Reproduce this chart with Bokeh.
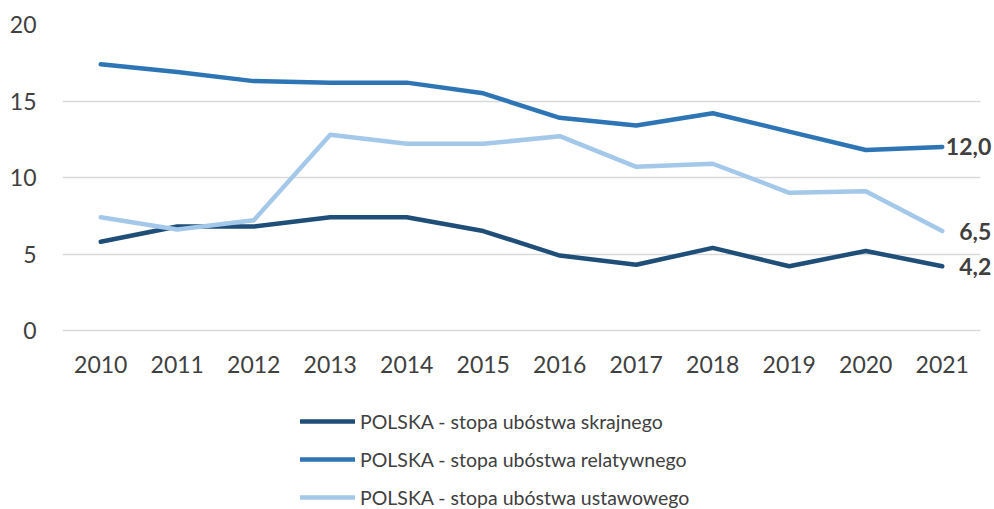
from bokeh.plotting import figure
from bokeh.models import Range1d, ColumnDataSource, LabelSet, FixedTicker, Legend, LegendItem
from bokeh.core.properties import value
from bokeh.embed import file_html
from bokeh.resources import INLINE

years = [2010, 2011, 2012, 2013, 2014, 2015, 2016, 2017, 2018, 2019, 2020, 2021]
skrajnego = [5.8, 6.8, 6.8, 7.4, 7.4, 6.5, 4.9, 4.3, 5.4, 4.2, 5.2, 4.2]
relatywnego = [17.4, 16.9, 16.3, 16.2, 16.2, 15.5, 13.9, 13.4, 14.2, 13.0, 11.8, 12.0]
ustawowego = [7.4, 6.6, 7.2, 12.8, 12.2, 12.2, 12.7, 10.7, 10.9, 9.0, 9.1, 6.5]
series_names = [
    "POLSKA - stopa ubóstwa skrajnego",
    "POLSKA - stopa ubóstwa relatywnego",
    "POLSKA - stopa ubóstwa ustawowego",
]
y_ticks = [0, 5, 10, 15, 20]

colors = ["#1F4E79", "#2E75B6", "#A3C8EA"]
FONT = "Lato"
TXT = "#404040"

W, H, TOP, LEFT = 994, 509, 24, 62
zero_px = 306          # y=0 sits this far below the frame top
cat_px = 76.5          # width of one year slot
y_max = 20
y_min = -y_max * (H - TOP - zero_px) / zero_px
x_start = years[0] - 0.5
x_end = x_start + (W - LEFT) / cat_px

p = figure(
    width=W, height=H,
    x_range=Range1d(x_start, x_end),
    y_range=Range1d(y_min, y_max),
    output_backend="svg", toolbar_location=None,
    min_border_left=LEFT, min_border_right=0, min_border_top=TOP, min_border_bottom=0,
)
p.outline_line_color = None
p.background_fill_color = "white"
p.border_fill_color = "white"

p.xgrid.grid_line_color = None
p.ygrid.grid_line_color = "#D9D9D9"
p.ygrid.grid_line_width = 1.5
p.ygrid.cross_bounds = (years[0] - 0.5, years[-1] + 0.5)

p.yaxis.ticker = FixedTicker(ticks=y_ticks)
p.xaxis.ticker = FixedTicker(ticks=years)
for ax in (p.xaxis[0], p.yaxis[0]):
    ax.axis_line_color = None
    ax.major_tick_line_color = None
    ax.minor_tick_line_color = None
    ax.major_tick_in = 0
    ax.major_tick_out = 0
    ax.major_label_text_font = FONT
    ax.major_label_text_font_size = "23px"
    ax.major_label_text_color = TXT
p.yaxis.major_label_standoff = 26
p.xaxis.major_label_standoff = 25
p.xaxis.fixed_location = 0

all_series = [skrajnego, relatywnego, ustawowego]
items = []
for vals, name, c in zip(all_series, series_names, colors):
    src = ColumnDataSource(dict(x=years, y=vals))
    r = p.line("x", "y", source=src, line_color=c, line_width=4.5,
               line_join="round", line_cap="round")
    items.append(LegendItem(label=name, renderers=[r]))

last = ColumnDataSource(dict(
    x=[years[-1]] * 3,
    y=[s[-1] for s in all_series],
    t=[f"{s[-1]:.1f}".replace(".", ",") for s in all_series],
))
p.add_layout(LabelSet(x="x", y="y", text="t", source=last,
                      x_offset=49, y_offset=0,
                      text_align="right", text_baseline="middle",
                      text_font=value(FONT), text_font_style="bold",
                      text_font_size="23px", text_color=TXT))

lg = Legend(items=items, location=(238, 0), orientation="vertical")
lg.border_line_color = None
lg.background_fill_alpha = 0
lg.padding = 0
lg.margin = 0
lg.spacing = 14
lg.glyph_width = 55
lg.glyph_height = 24
lg.label_height = 24
lg.label_standoff = 5
lg.label_text_font = FONT
lg.label_text_font_size = "19.5px"
lg.label_text_color = TXT
p.add_layout(lg)

open("out.html", "w").write(file_html(p, INLINE))
